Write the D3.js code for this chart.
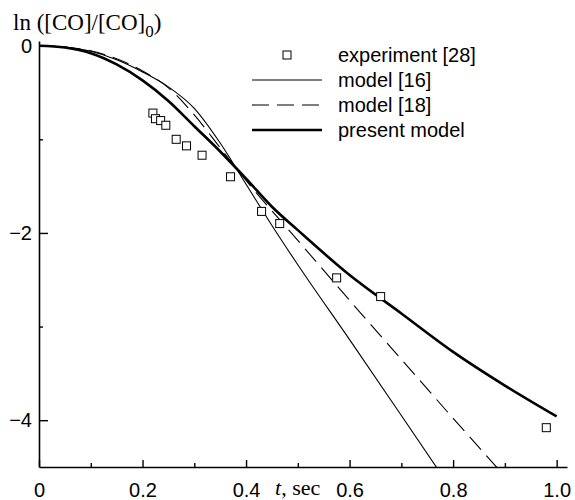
<!DOCTYPE html>
<html>
<head>
<meta charset="utf-8">
<script src="https://cdn.jsdelivr.net/npm/d3@7"></script>
<style>
  body { margin: 0; background: #fff; }
  svg { display: block; }
  .tick text { font-family: "Liberation Sans", Arial, sans-serif; font-size: 20px; fill: #000; }
</style>
</head>
<body>
<svg id="chart"></svg>
<script>
//////////////// Daten ////////////////////
// experiment [28]
const expT  = [0.22, 0.225, 0.235, 0.245, 0.265, 0.285, 0.315, 0.37, 0.43, 0.465, 0.575, 0.66, 0.98];
const expLn = [-0.72, -0.78, -0.80, -0.85, -1.00, -1.07, -1.17, -1.40, -1.77, -1.90, -2.48, -2.68, -4.08];

// model [16]
const m16T  = [0, 0.05, 0.1, 0.15, 0.2, 0.25, 0.3, 0.35, 0.4, 0.45, 0.5, 0.6, 0.7, 0.77];
const m16Ln = [0, -0.015, -0.06, -0.15, -0.28, -0.44, -0.67, -1.04, -1.48, -1.92, -2.34, -3.14, -3.95, -4.52];

// model [18]
const m18T  = [0, 0.05, 0.1, 0.15, 0.2, 0.25, 0.3, 0.35, 0.4, 0.5, 0.6, 0.7, 0.8, 0.9];
const m18Ln = [0, -0.015, -0.055, -0.14, -0.27, -0.45, -0.74, -1.09, -1.44, -2.08, -2.72, -3.35, -3.98, -4.6];

// present model
const presT  = [0, 0.05, 0.1, 0.15, 0.2, 0.25, 0.3, 0.35, 0.4, 0.45, 0.5, 0.6, 0.7, 0.8, 0.9, 1.0];
const presLn = [0, -0.02, -0.08, -0.2, -0.37, -0.59, -0.86, -1.13, -1.42, -1.72, -1.97, -2.45, -2.86, -3.27, -3.63, -3.96];

const xMajor = [0, 0.2, 0.4, 0.6, 0.8, 1.0];
const xMinor = [0.1, 0.3, 0.5, 0.7, 0.9];
const yMajor = [0, -2, -4];
const yMinor = [-1, -3];

const legendItems = [
  {label: "experiment [28]", type: "square"},
  {label: "model [16]", type: "thin"},
  {label: "model [18]", type: "dash"},
  {label: "present model", type: "thick"}
];

//////////////// Konstanten ////////////////////
const W = 575, H = 500;
const plotL = 39, plotR = 567, plotT = 41, plotB = 467;

const styles = {
  thin:  {width: 1.1, dash: null},
  dash:  {width: 1.1, dash: "17,8"},
  thick: {width: 2.6, dash: null}
};

const svg = d3.select("#chart").attr("width", W).attr("height", H);

const x = d3.scaleLinear().domain([0, 1.02]).range([plotL, plotR]);
const y = d3.scaleLinear().domain([-4.5, 0.05]).range([plotB, plotT]);

svg.append("clipPath").attr("id", "plot")
  .append("rect")
  .attr("x", plotL).attr("y", plotT)
  .attr("width", plotR - plotL).attr("height", plotB - plotT);

//////////////// Kurven ///////////////
const line = d3.line()
  .x(d => x(d[0]))
  .y(d => y(d[1]))
  .curve(d3.curveMonotoneX);

const curves = [
  {t: m16T, v: m16Ln, type: "thin"},
  {t: m18T, v: m18Ln, type: "dash"},
  {t: presT, v: presLn, type: "thick"}
];

svg.append("g").attr("clip-path", "url(#plot)")
  .selectAll("path")
  .data(curves)
  .enter()
  .append("path")
  .attr("d", d => line(d.t.map((t, i) => [t, d.v[i]])))
  .attr("fill", "none")
  .attr("stroke", "#000")
  .attr("stroke-width", d => styles[d.type].width)
  .attr("stroke-dasharray", d => styles[d.type].dash);

//////////////// Punkte ///////////////
const sq = 8;
svg.append("g")
  .selectAll("rect")
  .data(expT.map((t, i) => [t, expLn[i]]))
  .enter()
  .append("rect")
  .attr("x", d => x(d[0]) - sq / 2)
  .attr("y", d => y(d[1]) - sq / 2)
  .attr("width", sq).attr("height", sq)
  .attr("fill", "#fff")
  .attr("stroke", "#000")
  .attr("stroke-width", 1);

//////////////// Achsen ///////////////
const fmtX = d => d === 0 ? "0" : d3.format(".1f")(d);
const fmtY = d => d === 0 ? "0" : "\u2212" + Math.abs(d);

const gx = svg.append("g").attr("transform", "translate(0," + plotB + ")")
  .call(d3.axisBottom(x).tickValues(xMajor).tickFormat(fmtX).tickSizeInner(-7).tickSizeOuter(0).tickPadding(16));
const gxMinor = svg.append("g").attr("transform", "translate(0," + plotB + ")")
  .call(d3.axisBottom(x).tickValues(xMinor).tickFormat("").tickSizeInner(-4).tickSizeOuter(0));
const gy = svg.append("g").attr("transform", "translate(" + plotL + ",0)")
  .call(d3.axisLeft(y).tickValues(yMajor).tickFormat(fmtY).tickSizeInner(-9).tickSizeOuter(0).tickPadding(7));
const gyMinor = svg.append("g").attr("transform", "translate(" + plotL + ",0)")
  .call(d3.axisLeft(y).tickValues(yMinor).tickFormat("").tickSizeInner(-4).tickSizeOuter(0));

[gx, gxMinor, gy, gyMinor].forEach(g => {
  g.select(".domain").attr("stroke", "#000").attr("stroke-width", 1.6);
  g.selectAll(".tick line").attr("stroke", "#000").attr("stroke-width", 1.4);
});
gxMinor.select(".domain").remove();
gyMinor.select(".domain").remove();

// Achsentitel
const title = svg.append("text")
  .attr("x", 13).attr("y", 30)
  .attr("font-family", "'Liberation Serif', 'Times New Roman', serif")
  .attr("font-size", 23);
title.append("tspan").text("ln ([CO]/[CO]");
title.append("tspan").attr("font-size", 17).attr("dy", 7).text("0");
title.append("tspan").attr("dy", -7).text(")");

const xt = svg.append("text")
  .attr("x", 275).attr("y", 495)
  .attr("font-family", "'Liberation Serif', 'Times New Roman', serif")
  .attr("font-size", 22);
xt.append("tspan").attr("font-style", "italic").text("t");
xt.append("tspan").text(", sec");

//////////////// Legende ///////////////
const lg = svg.append("g").selectAll("g")
  .data(legendItems)
  .enter()
  .append("g")
  .attr("transform", (d, i) => "translate(0," + (55 + i * 25) + ")");

lg.filter(d => d.type === "square").append("rect")
  .attr("x", 287 - sq / 2).attr("y", -sq / 2)
  .attr("width", sq).attr("height", sq)
  .attr("fill", "#fff").attr("stroke", "#000").attr("stroke-width", 1);

lg.filter(d => d.type !== "square").append("line")
  .attr("x1", 252).attr("x2", 322)
  .attr("stroke", "#000")
  .attr("stroke-width", d => styles[d.type].width)
  .attr("stroke-dasharray", d => styles[d.type].dash);

lg.append("text")
  .attr("x", 338).attr("y", 7)
  .attr("font-family", "'Liberation Sans', Arial, sans-serif")
  .attr("font-size", 20)
  .text(d => d.label);
</script>
</body>
</html>
